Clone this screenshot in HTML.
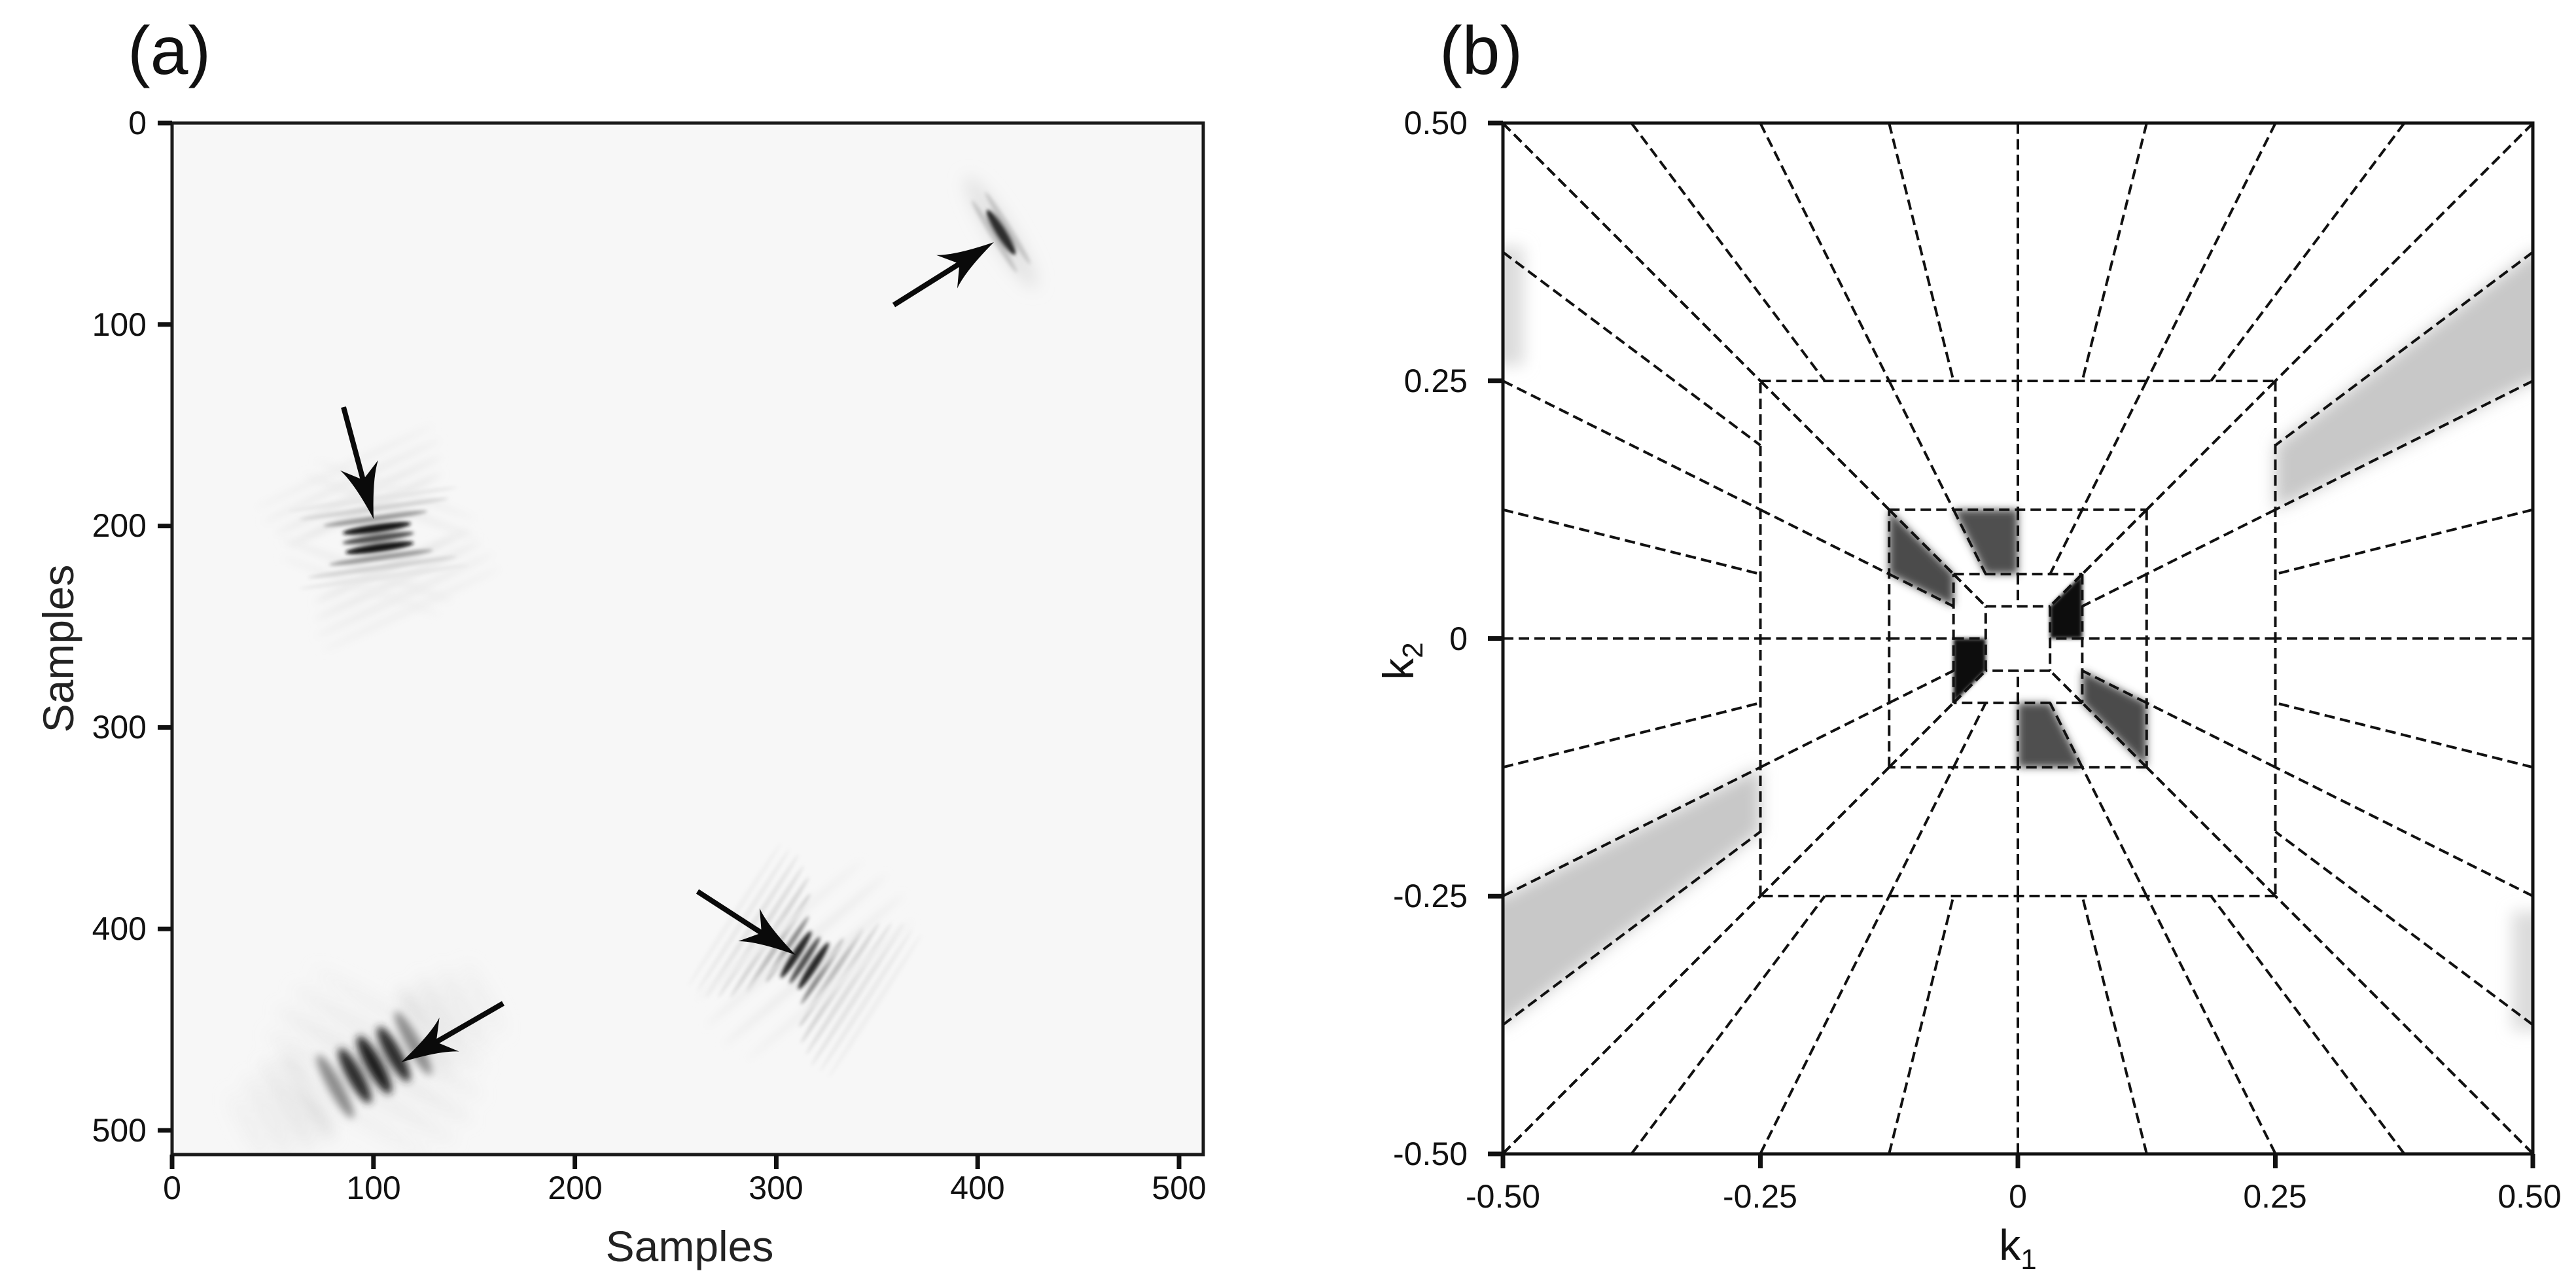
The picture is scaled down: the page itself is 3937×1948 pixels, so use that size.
<!DOCTYPE html>
<html><head><meta charset="utf-8">
<style>
html,body{margin:0;padding:0;background:#fff;}
svg{display:block;}
text{font-family:"Liberation Sans",Arial,sans-serif;fill:#111;}
</style></head>
<body>
<svg id="s" xmlns="http://www.w3.org/2000/svg" width="3937" height="1948" viewBox="0 0 3937 1948">
<defs>
<filter id="b4" x="-50%" y="-50%" width="200%" height="200%"><feGaussianBlur stdDeviation="6"/></filter>
<filter id="b8" x="-50%" y="-50%" width="200%" height="200%"><feGaussianBlur stdDeviation="12"/></filter>
<filter id="b2" x="-50%" y="-50%" width="200%" height="200%"><feGaussianBlur stdDeviation="3"/></filter>
<clipPath id="ca"><rect x="263" y="188" width="1576" height="1576"/></clipPath>
<clipPath id="cb"><rect x="2297" y="188" width="1574" height="1575"/></clipPath>
</defs>
<rect width="3937" height="1948" fill="#fff"/>
<rect x="263" y="188" width="1576" height="1576" fill="#f7f7f7"/>
<g id="blobs" clip-path="url(#ca)"></g>
<g id="arrows"></g>
<rect x="263" y="188" width="1576" height="1576" fill="none" stroke="#1a1a1a" stroke-width="5"/>
<g id="ticksA" stroke="#111" stroke-width="7"></g>
<g font-size="50" text-anchor="end">
<text x="224" y="205">0</text>
<text x="224" y="513">100</text>
<text x="224" y="820">200</text>
<text x="224" y="1128">300</text>
<text x="224" y="1436">400</text>
<text x="224" y="1744">500</text>
</g>
<g font-size="50" text-anchor="middle">
<text x="263" y="1832">0</text>
<text x="571" y="1832">100</text>
<text x="879" y="1832">200</text>
<text x="1186" y="1832">300</text>
<text x="1494" y="1832">400</text>
<text x="1802" y="1832">500</text>
</g>
<text x="1054" y="1927" font-size="66" text-anchor="middle" style="fill:#222">Samples</text>
<text transform="translate(112,991) rotate(-90)" font-size="66" text-anchor="middle" style="fill:#222">Samples</text>
<text x="195" y="113" font-size="104">(a)</text>
<g id="shade" clip-path="url(#cb)"></g>
<g id="dash" clip-path="url(#cb)" stroke="#111" stroke-width="4" stroke-dasharray="16 8" fill="none"></g>
<rect x="2297" y="188" width="1574" height="1575" fill="none" stroke="#111" stroke-width="5"/>
<g id="ticksB" stroke="#111" stroke-width="7"></g>
<g font-size="50" text-anchor="end">
<text x="2243" y="205">0.50</text>
<text x="2243" y="599">0.25</text>
<text x="2243" y="993">0</text>
<text x="2243" y="1386">-0.25</text>
<text x="2243" y="1780">-0.50</text>
</g>
<g font-size="50" text-anchor="middle">
<text x="2297" y="1845">-0.50</text>
<text x="2690" y="1845">-0.25</text>
<text x="3084" y="1845">0</text>
<text x="3477" y="1845">0.25</text>
<text x="3866" y="1845">0.50</text>
</g>
<text x="3084" y="1925" font-size="66" text-anchor="middle">k<tspan font-size="44" dy="14">1</tspan></text>
<text transform="translate(2160,1010) rotate(-90)" font-size="66" text-anchor="middle">k<tspan font-size="44" dy="14">2</tspan></text>
<text x="2200" y="113" font-size="104">(b)</text>
</svg>
<script>
var NS="http://www.w3.org/2000/svg";
function el(p,t,a){var e=document.createElementNS(NS,t);for(var k in a)e.setAttribute(k,a[k]);p.appendChild(e);return e;}
var tA=document.getElementById("ticksA");
for(var i=0;i<=5;i++){var v=263+i*100*3.078;el(tA,"line",{x1:v,y1:1764,x2:v,y2:1786});var w=188+i*100*3.078;el(tA,"line",{x1:241,y1:w,x2:263,y2:w});}
var tB=document.getElementById("ticksB");
for(var i=0;i<=4;i++){var v=2297+i*393.5;el(tB,"line",{x1:v,y1:1763,x2:v,y2:1785});var w=188+i*393.75;el(tB,"line",{x1:2274,y1:w,x2:2297,y2:w});}
var B=document.getElementById("blobs");
function stripes(cx,cy,ang,sp,list,filt){
  var g=el(B,"g",{filter:"url(#"+filt+")"});
  var r=ang*Math.PI/180, nx=-Math.sin(r), ny=Math.cos(r);
  list.forEach(function(s){
    var x=cx+nx*sp*s[0], y=cy+ny*sp*s[0];
    el(g,"ellipse",{cx:x,cy:y,rx:s[1]/2,ry:s[2]/2,fill:s[3],transform:"rotate("+ang+" "+x+" "+y+")"});
  });
}
// blob 4 (bottom-left)
stripes(560,1625,61,34,[[-6,120,22,"#efefef"],[-5,140,22,"#eaeaea"],[-4,150,22,"#e4e4e4"],[-3,150,22,"#d8d8d8"],[3,150,22,"#d8d8d8"],[4,150,22,"#e4e4e4"],[5,140,22,"#eaeaea"],[6,120,22,"#efefef"]],"b8");
stripes(572,1627,30,40,[[-2,300,22,"#efefef"],[-1,330,22,"#ebebeb"],[0,340,22,"#e8e8e8"],[1,330,22,"#ebebeb"],[2,300,22,"#efefef"]],"b8");
stripes(572,1627,61,34,[[-2,110,22,"#8c8c8c"],[-1,95,24,"#2c2c2c"],[0,100,25,"#1e1e1e"],[1,95,24,"#2c2c2c"],[2,110,22,"#8c8c8c"]],"b4");
// blob 2
stripes(578,822,-25,24,[[-5,300,10,"#eeeeee"],[-4,300,10,"#eaeaea"],[-3,280,10,"#e6e6e6"],[-2,260,10,"#e2e2e2"],[2,260,10,"#e2e2e2"],[3,280,10,"#e6e6e6"],[4,300,10,"#eaeaea"],[5,300,10,"#eeeeee"]],"b4");
stripes(578,822,20,26,[[-3,260,10,"#eeeeee"],[-2,280,10,"#ebebeb"],[2,280,10,"#ebebeb"],[3,260,10,"#eeeeee"]],"b4");
stripes(578,822,-8,15,[[-4,260,8,"#e6e6e6"],[-3,230,8,"#d2d2d2"],[-2,160,9,"#9a9a9a"],[-1,105,13,"#181818"],[0,110,11,"#505050"],[1,105,13,"#181818"],[2,160,9,"#9a9a9a"],[3,230,8,"#d2d2d2"],[4,260,8,"#e6e6e6"]],"b2");
// blob 3
stripes(1230,1467,-57,16,[[-8,260,9,"#efefef"],[-7,260,9,"#eaeaea"],[-6,260,9,"#e4e4e4"],[-5,240,9,"#dedede"],[-4,220,9,"#d4d4d4"],[-3,180,9,"#bbbbbb"],[-2,120,9,"#888"],[2,120,9,"#888"],[3,180,9,"#bbbbbb"],[4,220,9,"#d4d4d4"],[5,240,9,"#dedede"],[6,260,9,"#e4e4e4"],[7,260,9,"#eaeaea"],[8,260,9,"#efefef"]],"b2");
stripes(1230,1467,-40,20,[[-3,330,12,"#efefef"],[-1,360,12,"#ececec"],[1,360,12,"#ececec"],[3,330,12,"#efefef"]],"b4");
stripes(1230,1467,-57,16,[[-1,85,12,"#262626"],[0,85,10,"#505050"],[1,85,12,"#262626"]],"b2");
// blob 1
stripes(1530,355,58,12,[[0,200,40,"#e4e4e4"]],"b8");
stripes(1530,355,58,12,[[-1,130,10,"#c4c4c4"],[1,130,10,"#c4c4c4"],[0,80,18,"#2e2e2e"]],"b2");
var A=document.getElementById("arrows");
function arrow(tx,ty,hx,hy){
  var dx=tx-hx,dy=ty-hy,L=Math.hypot(dx,dy),ux=dx/L,uy=dy/L,nx=-uy,ny=ux;
  el(A,"line",{x1:tx,y1:ty,x2:hx+ux*60,y2:hy+uy*60,stroke:"#0a0a0a","stroke-width":8});
  var p=[[hx,hy],[hx+85*ux+30*nx,hy+85*uy+30*ny],[hx+62*ux,hy+62*uy],[hx+85*ux-30*nx,hy+85*uy-30*ny]];
  el(A,"path",{d:"M"+p[0]+" Q"+(hx+60*ux+14*nx)+","+(hy+60*uy+14*ny)+" "+p[1]+" L"+p[2]+" L"+p[3]+" Q"+(hx+60*ux-14*nx)+","+(hy+60*uy-14*ny)+" "+p[0]+"Z",fill:"#0a0a0a"});
}
arrow(1366,466,1519,370);
arrow(525,622,571,793);
arrow(1066,1362,1216,1459);
arrow(769,1533,613,1623);
var S=document.getElementById("shade");
function P(k1,k2){return (3084+k1*1574)+","+(975.5-k2*1575);}
function poly(pts,col,filt,neg){
  var s=pts.map(function(p){return P(p[0],p[1]);}).join(" ");
  el(S,"polygon",{points:s,fill:col,filter:"url(#"+filt+")"});
  if(neg){var s2=pts.map(function(p){return P(-p[0],-p[1]);}).join(" ");el(S,"polygon",{points:s2,fill:col,filter:"url(#"+filt+")"});}
}
poly([[0.25,0.125],[0.5,0.25],[0.53,0.25],[0.53,0.375],[0.5,0.375],[0.25,0.1875]],"#c8c8c8","b8",true);
poly([[-0.53,0.265],[-0.48,0.265],[-0.48,0.38],[-0.53,0.38]],"#dcdcdc","b8",true);
poly([[-0.125,0.125],[-0.125,0.0625],[-0.0625,0.03125],[-0.0625,0.0625]],"#4c4c4c","b4",true);
poly([[-0.0625,0.125],[0,0.125],[0,0.0625],[-0.03125,0.0625]],"#505050","b4",true);
poly([[0.03125,0.03125],[0.0625,0.0625],[0.0625,0],[0.03125,0]],"#0d0d0d","b2",true);
var D=document.getElementById("dash");
var C=[3084,975.5],U=1574;
function seg(x1,y1,x2,y2){for(var r=0;r<4;r++){el(D,"line",{x1:x1,y1:y1,x2:x2,y2:y2,transform:"translate("+C[0]+","+C[1]+") rotate("+(r*90)+")"});}}
var cor=[[0.5,8],[0.25,4],[0.125,4],[0.0625,2]];
cor.forEach(function(c){var R=c[0]*U,n=c[1];for(var i=0;i<=n;i++){var t=-1+2*i/n;seg(t*R,-R,t*R/2,-R/2);}});
[0.25,0.125,0.0625,0.03125].forEach(function(h){var H=h*U;seg(-H,-H,H,-H);});
</script>
</body></html>
